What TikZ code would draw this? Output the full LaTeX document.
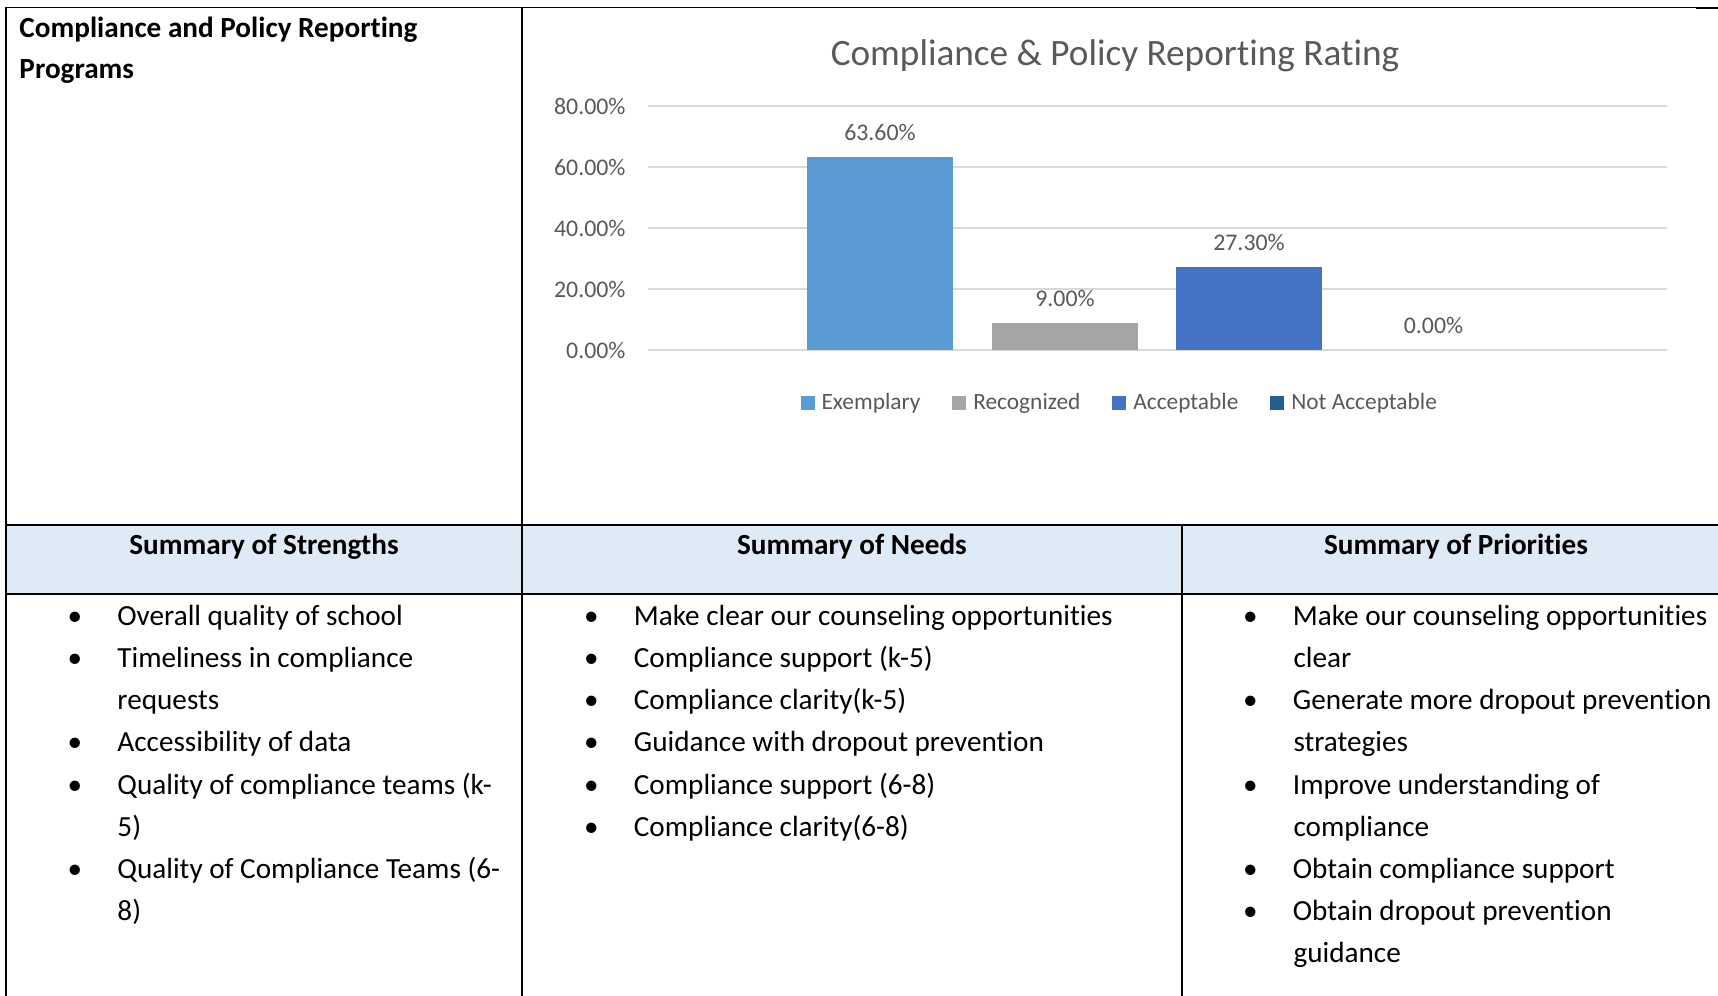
\documentclass[tikz,border=0pt]{standalone}
\usepackage{fontspec}
\setmainfont{Carlito}[Ligatures={NoCommon}]
\usetikzlibrary{positioning}
\definecolor{exemp}{HTML}{5B9BD5}
\definecolor{recog}{HTML}{A5A5A5}
\definecolor{accep}{HTML}{4472C4}
\definecolor{notacc}{HTML}{255E91}
\definecolor{gridgray}{HTML}{D9D9D9}
\definecolor{axisgray}{HTML}{595959}
\definecolor{headblue}{HTML}{DEEAF6}
\newcommand{\bul}{\makebox[34.9pt]{\textbullet}}
\begin{document}
\begin{tikzpicture}[x=0.411pt,y=-0.411pt,
  rule/.style={line width=0.7pt},
  cell text/.style={inner sep=0pt,anchor=base west,font=\fontsize{12}{14}\selectfont},
  head text/.style={inner sep=0pt,anchor=base,font=\fontsize{12}{14}\selectfont\bfseries},
  tick label/.style={inner sep=0pt,anchor=east,text=axisgray,font=\fontsize{9.8}{11}\selectfont},
  value label/.style={inner sep=0pt,text=axisgray,font=\fontsize{9.8}{11}\selectfont},
  key/.style={inner sep=0pt,minimum size=5.75pt},
  key text/.style={inner sep=0pt,text=axisgray,font=\fontsize{9.6}{11}\selectfont}]
\useasboundingbox (0,0) rectangle (1718,996);
\fill[white] (0,0) rectangle (1718,996);
% table
\fill[headblue] (6,525) rectangle (1718,594);
\draw[rule] (6,7.5) -- (1697,7.5);
\draw[line width=1pt] (1696,7.8) -- (1718,7.8);
\draw[rule] (6,7.5) -- (6,996);
\draw[rule] (522,7.5) -- (522,996);
\draw[rule] (1182,525) -- (1182,996);
\draw[rule] (6,525) -- (1718,525);
\draw[rule] (6,594) -- (1718,594);
\node[cell text,font=\fontsize{12}{14}\selectfont\bfseries] (prog) at (19,38) {Compliance and Policy Reporting};
\node[cell text,font=\fontsize{12}{14}\selectfont\bfseries] (prog2) at (19,78.5) {Programs};
% chart
\node[inner sep=0pt,text=axisgray,font=\fontsize{15.3}{18}\selectfont] (ctitle) at (1115,55.6) {Compliance \& Policy Reporting Rating};
\draw[gridgray,line width=0.6pt] (648,106) -- (1667,106);
\draw[gridgray,line width=0.6pt] (648,167) -- (1667,167);
\draw[gridgray,line width=0.6pt] (648,228) -- (1667,228);
\draw[gridgray,line width=0.6pt] (648,289) -- (1667,289);
\draw[gridgray,line width=0.6pt] (648,350) -- (1667,350);
\node[tick label] (t80) at (626,106.5) {80.00\%};
\node[tick label] (t60) at (626,167.5) {60.00\%};
\node[tick label] (t40) at (626,228.5) {40.00\%};
\node[tick label] (t20) at (626,289.5) {20.00\%};
\node[tick label] (t0) at (626,350.5) {0.00\%};
\fill[exemp] (807,350) rectangle (953,157);
\fill[recog] (992,350) rectangle (1138,323);
\fill[accep] (1176,350) rectangle (1322,267);
\node[value label] (vex) at (880,132.5) {63.60\%};
\node[value label] (vrec) at (1065,298) {9.00\%};
\node[value label] (vacc) at (1249,242) {27.30\%};
\node[value label] (vnot) at (1433.5,325) {0.00\%};
% legend
\node[key,fill=exemp] (kex) at (807.5,403) {};
\node[key text,right=2.5pt of kex] (lex) {Exemplary};
\node[key,fill=recog,right=12.7pt of lex] (krec) {};
\node[key text,right=2.5pt of krec] (lrec) {Recognized};
\node[key,fill=accep,right=12.7pt of lrec] (kacc) {};
\node[key text,right=2.5pt of kacc] (lacc) {Acceptable};
\node[key,fill=notacc,right=12.7pt of lacc] (knot) {};
\node[key text,right=2.5pt of knot] (lnot) {Not Acceptable};
% header row
\node[head text] (hstr) at (264,554.7) {Summary of Strengths};
\node[head text] (hneed) at (852,554.7) {Summary of Needs};
\node[head text] (hpri) at (1456,554.7) {Summary of Priorities};
% strengths
\node[cell text] (s1) at (32,625.2) {\bul Overall quality of school};
\node[cell text] (s2) at (32,667.4) {\bul Timeliness in compliance};
\node[cell text] (s2b) at (117,709.6) {requests};
\node[cell text] (s3) at (32,751.8) {\bul Accessibility of data};
\node[cell text] (s4) at (32,794) {\bul Quality of compliance teams (k-};
\node[cell text] (s4b) at (117,836.2) {5)};
\node[cell text] (s5) at (32,878.4) {\bul Quality of Compliance Teams (6-};
\node[cell text] (s5b) at (117,920.6) {8)};
% needs
\node[cell text] (n1) at (548.5,625.2) {\bul Make clear our counseling opportunities};
\node[cell text] (n2) at (548.5,667.4) {\bul Compliance support (k-5)};
\node[cell text] (n3) at (548.5,709.6) {\bul Compliance clarity(k-5)};
\node[cell text] (n4) at (548.5,751.8) {\bul Guidance with dropout prevention};
\node[cell text] (n5) at (548.5,794) {\bul Compliance support (6-8)};
\node[cell text] (n6) at (548.5,836.2) {\bul Compliance clarity(6-8)};
% priorities
\node[cell text] (p1) at (1207.5,625.2) {\bul Make our counseling opportunities};
\node[cell text] (p1b) at (1293,667.4) {clear};
\node[cell text] (p2) at (1207.5,709.6) {\bul Generate more dropout prevention};
\node[cell text] (p2b) at (1293,751.8) {strategies};
\node[cell text] (p3) at (1207.5,794) {\bul Improve understanding of};
\node[cell text] (p3b) at (1293,836.2) {compliance};
\node[cell text] (p4) at (1207.5,878.4) {\bul Obtain compliance support};
\node[cell text] (p5) at (1207.5,920.6) {\bul Obtain dropout prevention};
\node[cell text] (p5b) at (1293,962) {guidance};
\end{tikzpicture}
\end{document}
